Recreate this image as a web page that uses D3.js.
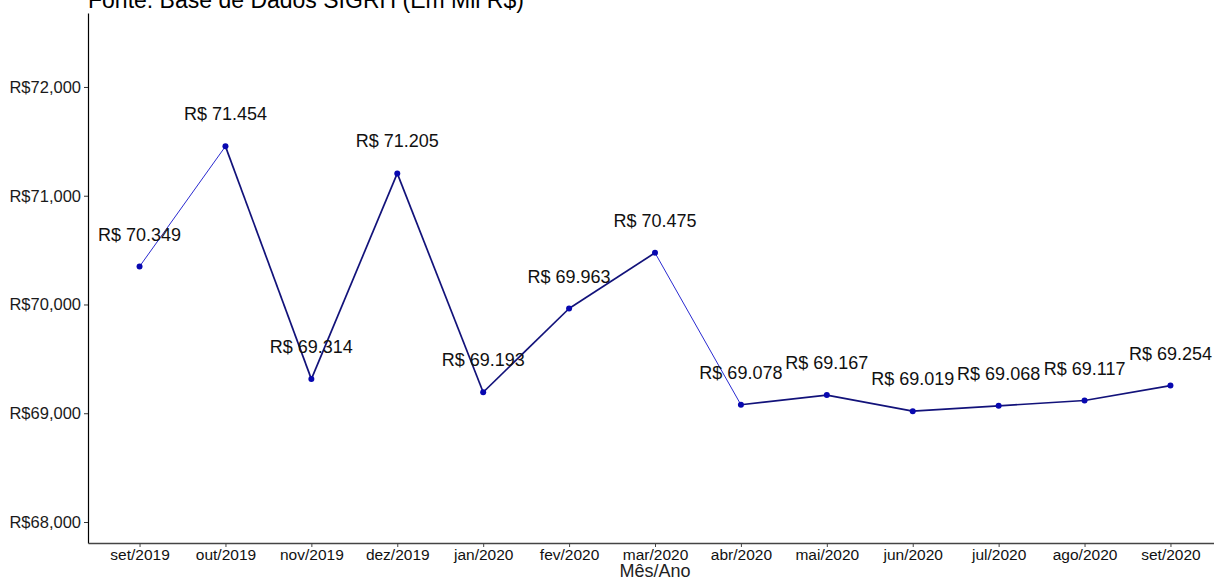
<!DOCTYPE html>
<html>
<head>
<meta charset="utf-8">
<script src="https://cdn.jsdelivr.net/npm/d3@7"></script>
<style>
  body { margin: 0; background: #fff; }
  svg { font-family: "Liberation Sans", Arial, sans-serif; }
</style>
</head>
<body>
<svg id="chart"></svg>
<script>
// Data
const months = ['set/2019', 'out/2019', 'nov/2019', 'dez/2019', 'jan/2020', 'fev/2020', 'mar/2020',
  'abr/2020', 'mai/2020', 'jun/2020', 'jul/2020', 'ago/2020', 'set/2020'];
const values = [70349, 71454, 69314, 71205, 69193, 69963, 70475, 69078, 69167, 69019, 69068, 69117, 69254];
const yTicks = [68000, 69000, 70000, 71000, 72000];
const title = 'Fonte: Base de Dados SIGRH (Em Mil R$)';
const xTitle = 'Mês/Ano';

const data = months.map((m, i) => ({ month: m, value: values[i] }));

// Chart dimensions
const width = 1214;
const height = 578;
const panelLeft = 88, panelRight = 1222, panelTop = 13, panelBottom = 543;

const svg = d3.select('#chart')
  .attr('width', width)
  .attr('height', height);

// Scales
const xScale = d3.scalePoint()
  .domain(months)
  .range([panelLeft, panelRight])
  .padding(0.6);

const yScale = d3.scaleLinear()
  .domain([67807, 72680])
  .range([panelBottom, panelTop]);

// Title (partly cut at the top, as in the original)
svg.append('text')
  .attr('x', panelLeft)
  .attr('y', 8)
  .attr('font-size', 23)
  .attr('fill', '#000')
  .text(title);

// Y-axis
const yAxis = d3.axisLeft(yScale)
  .tickValues(yTicks)
  .tickSize(4)
  .tickSizeOuter(0)
  .tickPadding(3)
  .tickFormat(d => 'R$' + d3.format(',')(d));
const gy = svg.append('g')
  .attr('transform', `translate(${panelLeft}, 0)`)
  .call(yAxis);
gy.select('.domain').attr('stroke', '#000').attr('stroke-width', 1.2);
gy.selectAll('.tick line').attr('stroke', '#333');
gy.selectAll('text').attr('font-size', 16.5).attr('fill', '#1a1a1a')
  .attr('font-family', '"Liberation Sans", Arial, sans-serif');

// X-axis
const xAxis = d3.axisBottom(xScale)
  .tickSize(4)
  .tickSizeOuter(0)
  .tickPadding(2);
const gx = svg.append('g')
  .attr('transform', `translate(0, ${panelBottom})`)
  .call(xAxis);
gx.select('.domain').attr('stroke', '#444').attr('stroke-width', 1.6);
gx.selectAll('.tick line').attr('stroke', '#444');
gx.selectAll('text').attr('font-size', 15.5).attr('fill', '#111')
  .attr('font-family', '"Liberation Sans", Arial, sans-serif');

// X-axis title
svg.append('text')
  .attr('x', (panelLeft + panelRight) / 2)
  .attr('y', 577)
  .attr('text-anchor', 'middle')
  .attr('font-size', 18)
  .attr('fill', '#222')
  .text(xTitle);

// Line segments (some drawn lighter/thinner, as in the original)
const thinSegments = [0, 6];
const segs = d3.pairs(data);
svg.selectAll('.seg')
  .data(segs)
  .enter().append('line')
  .attr('class', 'seg')
  .attr('x1', d => xScale(d[0].month))
  .attr('y1', d => yScale(d[0].value))
  .attr('x2', d => xScale(d[1].month))
  .attr('y2', d => yScale(d[1].value))
  .attr('stroke', (d, i) => thinSegments.includes(i) ? '#2a2ad0' : '#12127a')
  .attr('stroke-width', (d, i) => thinSegments.includes(i) ? 1 : 1.7);

// Points
svg.selectAll('.pt')
  .data(data)
  .enter().append('circle')
  .attr('class', 'pt')
  .attr('cx', d => xScale(d.month))
  .attr('cy', d => yScale(d.value))
  .attr('r', 3)
  .attr('fill', '#0808b0');

// Value labels
svg.selectAll('.lbl')
  .data(data)
  .enter().append('text')
  .attr('class', 'lbl')
  .attr('x', d => xScale(d.month))
  .attr('y', d => yScale(d.value) - 26)
  .attr('text-anchor', 'middle')
  .attr('font-size', 18)
  .attr('fill', '#111')
  .text(d => 'R$ ' + d3.format(',')(d.value).replace(',', '.'));
</script>
</body>
</html>
